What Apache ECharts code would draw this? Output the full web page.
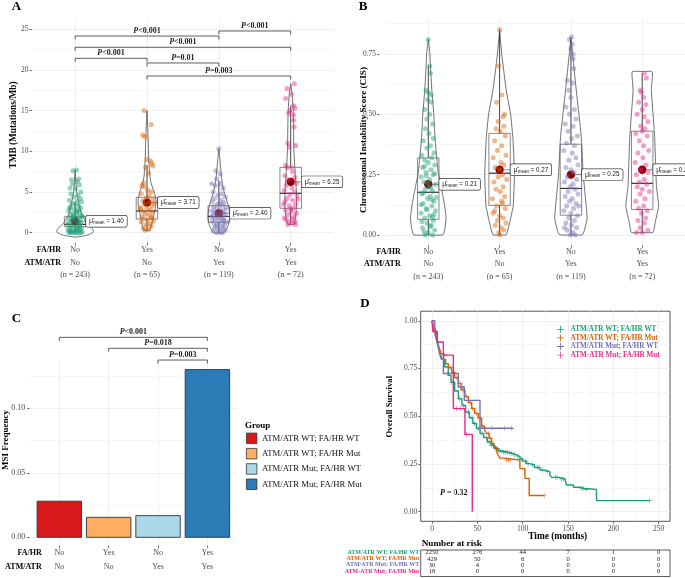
<!DOCTYPE html>
<html><head><meta charset="utf-8">
<script src="https://cdn.jsdelivr.net/npm/echarts@6/dist/echarts.min.js"></script>
<style>html,body{margin:0;padding:0;background:#fff}#c{width:685px;height:578px}</style>
</head><body><div id="c"></div>
<script>
const SERIF = '"Liberation Serif","Times New Roman","DejaVu Serif",serif';
const SANS = '"Liberation Sans","DejaVu Sans",sans-serif';
const TICK_COLOR = '#4D4D4D';

// ---------- shared groups (panels A, B, C)
const groupFA = ['No','Yes','No','Yes'];
const groupATM = ['No','No','Yes','Yes'];
const groupN = [243,65,119,72];
const groupPositions = [0,1,2,3];
const groupColors = ['#1B9E77','#D95F02','#7570B3','#E7298A'];

// ---------- panel A : TMB
const tmbTicks = [0,5,10,15,20,25];
const tmbMinorTicks = [2.5,7.5,12.5,17.5,22.5];
const tmbMeans = [1.40,3.71,2.40,6.25];
// q1, median, q3, lower whisker, upper whisker
const tmbBoxes = [[0.74,1.03,1.97,0,3.8],[1.68,2.67,4.35,0.3,8.3],[1.28,2.0,3.32,0,6.4],[3.0,4.84,8.03,1.0,15.6]];
// violin outlines: [value, half width]
const tmbViolins = [
  [[-0.55,0],[-0.4,0.12],[-0.2,0.2],[0.1,0.255],[0.5,0.24],[1.15,0.163],[2.2,0.093],[3.4,0.056],[4.8,0.023],[6,0.012],[7.7,0]],
  [[0.3,0],[0.32,0.045],[1,0.065],[2,0.09],[3,0.115],[4,0.125],[5,0.1],[6,0.06],[7,0.04],[9,0.025],[11,0.018],[13,0.01],[15,0]],
  [[-0.05,0],[0,0.07],[0.5,0.11],[1,0.135],[2,0.15],[3,0.14],[4,0.11],[5,0.074],[6,0.05],[7,0.035],[8,0.025],[9,0.015],[10.3,0]],
  [[1,0],[1.02,0.04],[1.5,0.06],[3,0.08],[5,0.08],[7,0.065],[10,0.045],[13,0.04],[15,0.035],[17,0.02],[18.3,0]]
];
// jitter points: [x offset, value]
const tmbPoints = [
  [[0.02,7.7],[-0.03,7.6],[0.05,6.6],[-0.05,6.5],[0.03,6.3],[-0.04,6.0],[0.06,5.9],[-0.07,5.5],[0.01,5.4],[0.08,5.0],[-0.06,4.8],[0.04,4.6],[-0.02,4.4],[0.07,4.2],[-0.08,4.0],[0.03,3.9],[0.09,3.8],[-0.04,3.6],[0.0,3.5],[0.05,3.3],[-0.07,3.2],[0.08,3.0],[-0.01,2.9],[0.04,2.8],[-0.09,2.7],[0.06,2.5],[-0.03,2.4],[0.02,2.3],[-0.06,2.2],[0.09,2.1],[-0.02,2.0],[0.05,1.9],[-0.08,1.8],[0.01,1.7],[0.07,1.6],[-0.05,1.5],[0.03,1.4],[-0.09,1.3],[0.08,1.2],[-0.01,1.1],[0.04,1.0],[-0.06,0.9],[0.06,0.8],[-0.03,0.7],[0.09,0.6],[-0.07,0.5],[0.02,0.5],[0.05,0.4],[-0.04,0.3],[0.07,0.3],[-0.08,0.2],[0.0,0.2],[0.03,0.1],[-0.05,0.1],[0.08,0.0],[-0.02,0.0],[0.05,0.0],[-0.09,0.0],[0.01,0.0],[-0.06,0.0],[0.1,0.1],[-0.1,0.4],[0.06,1.3],[-0.04,1.6],[0.02,2.6],[-0.07,3.0],[0.1,2.0],[-0.1,1.0],[0.04,0.6],[-0.03,1.9]],
  [[-0.04,15.0],[0.06,13.3],[-0.06,12.0],[-0.03,11.8],[0.0,9.0],[0.05,8.8],[0.07,8.5],[0.08,8.2],[-0.02,8.0],[0.02,7.3],[-0.05,6.1],[-0.07,5.8],[-0.04,5.6],[0.01,5.2],[0.06,5.0],[-0.08,4.8],[0.03,4.5],[-0.01,4.3],[0.09,4.1],[-0.06,3.9],[0.04,3.7],[-0.03,3.5],[0.07,3.3],[-0.09,3.1],[0.0,3.0],[0.05,2.8],[-0.05,2.6],[0.08,2.5],[-0.02,2.3],[0.03,2.2],[-0.07,2.0],[0.06,1.9],[-0.04,1.7],[0.01,1.6],[0.09,1.4],[-0.08,1.3],[0.04,1.1],[-0.01,1.0],[0.06,0.8],[-0.05,0.6],[0.02,0.4],[-0.03,0.3],[0.07,1.8],[-0.09,2.9],[0.1,3.6]],
  [[0.0,10.3],[-0.04,7.6],[0.02,7.2],[-0.03,6.6],[-0.1,6.0],[0.02,6.0],[-0.05,5.8],[0.06,5.5],[-0.08,5.0],[0.04,4.8],[-0.01,4.6],[0.09,4.4],[-0.06,4.2],[0.03,4.0],[-0.09,3.8],[0.07,3.7],[-0.02,3.5],[0.05,3.4],[-0.07,3.2],[0.1,3.1],[0.01,3.0],[-0.04,2.9],[0.08,2.8],[-0.1,2.7],[0.03,2.6],[-0.06,2.5],[0.06,2.4],[-0.01,2.3],[0.09,2.2],[-0.08,2.1],[0.02,2.0],[-0.03,1.9],[0.07,1.8],[-0.05,1.7],[0.04,1.6],[-0.09,1.5],[0.0,1.4],[0.1,1.3],[-0.07,1.2],[0.05,1.1],[-0.02,1.0],[0.08,0.9],[-0.04,0.8],[0.03,0.7],[-0.06,0.6],[0.06,0.5],[-0.01,0.4],[0.09,0.3],[-0.08,0.2],[0.02,0.1],[-0.03,0.0],[0.05,0.0],[0.07,1.5],[-0.1,2.0],[0.01,3.6]],
  [[0.05,18.3],[-0.05,17.7],[0.01,17.0],[-0.07,16.5],[0.04,15.6],[0.06,15.3],[-0.01,15.0],[-0.03,14.7],[0.04,14.5],[0.04,13.8],[0.05,13.0],[-0.04,11.0],[0.07,10.7],[-0.02,10.5],[-0.07,8.3],[-0.05,8.0],[0.01,8.0],[0.03,7.5],[-0.08,7.0],[0.06,6.8],[-0.03,6.5],[0.08,6.0],[-0.06,5.8],[0.02,5.5],[-0.09,5.2],[0.05,5.0],[-0.01,4.7],[0.09,4.5],[-0.05,4.2],[0.03,4.0],[-0.08,3.8],[0.07,3.5],[-0.02,3.3],[0.04,3.0],[-0.07,2.8],[0.01,2.6],[0.08,2.4],[-0.04,2.2],[0.05,2.0],[-0.09,1.8],[0.02,1.7],[-0.06,1.6],[0.06,1.4],[-0.02,1.3],[0.04,1.2],[-0.04,1.0],[0.07,1.0],[0.0,2.9],[-0.1,3.5],[0.1,4.1]]
];
// brackets: [from group, to group, height]
const tmbBrackets = [[0,2,24.16],[2,3,24.78],[0,3,22.78],[0,1,21.42],[1,2,20.85],[1,3,19.25]];
const tmbBracketLabels = ['P<0.001','P<0.001','P<0.001','P<0.001','P=0.01','P=0.003'];

// ---------- panel B : CIS
const cisTicks = [0,0.25,0.5,0.75];
const cisMinorTicks = [0.125,0.375,0.625,0.875];
const cisMeans = [0.21,0.27,0.25,0.27];
const cisBoxes = [[0.065,0.177,0.319,0,0.70],[0.123,0.256,0.421,0,0.85],[0.082,0.193,0.376,0,0.81],[0.106,0.214,0.43,0.01,0.67]];
const cisViolins = [
  [[0,0],[0.001,0.205],[0.03,0.235],[0.07,0.25],[0.12,0.23],[0.2,0.18],[0.25,0.145],[0.3,0.125],[0.4,0.095],[0.5,0.077],[0.6,0.05],[0.7,0.03],[0.75,0.023],[0.81,0]],
  [[0,0],[0.001,0.093],[0.05,0.14],[0.12,0.19],[0.25,0.208],[0.4,0.187],[0.5,0.154],[0.6,0.093],[0.7,0.05],[0.75,0.03],[0.85,0]],
  [[0,0],[0.001,0.16],[0.02,0.19],[0.07,0.227],[0.15,0.205],[0.25,0.173],[0.4,0.147],[0.5,0.112],[0.6,0.075],[0.7,0.04],[0.75,0.023],[0.82,0]],
  [[0.01,0],[0.011,0.152],[0.05,0.18],[0.12,0.23],[0.2,0.2],[0.3,0.187],[0.4,0.175],[0.5,0.152],[0.6,0.128],[0.676,0.14],[0.677,0]]
];
const cisPoints = [
  [[0.0,0.81],[0.02,0.70],[0.03,0.67],[-0.03,0.60],[0.0,0.59],[0.04,0.58],[-0.01,0.56],[0.04,0.55],[-0.05,0.52],[0.02,0.50],[-0.02,0.48],[0.06,0.46],[-0.04,0.44],[0.01,0.42],[0.07,0.40],[-0.07,0.39],[0.03,0.37],[-0.02,0.36],[0.08,0.34],[-0.09,0.33],[0.05,0.32],[-0.05,0.31],[0.0,0.30],[0.09,0.29],[-0.08,0.28],[0.04,0.27],[-0.03,0.26],[0.07,0.25],[-0.1,0.24],[0.02,0.23],[-0.06,0.22],[0.1,0.21],[0.01,0.20],[-0.04,0.19],[0.06,0.18],[-0.09,0.17],[0.03,0.16],[-0.01,0.15],[0.08,0.14],[-0.07,0.13],[0.05,0.12],[-0.03,0.11],[0.1,0.10],[-0.1,0.09],[0.02,0.08],[-0.05,0.07],[0.07,0.06],[-0.02,0.05],[0.04,0.04],[-0.08,0.03],[0.09,0.02],[0.0,0.01],[-0.04,0.0],[0.06,0.0],[-0.06,0.015],[0.03,0.035],[-0.09,0.055],[0.08,0.085],[-0.02,0.105],[0.05,0.145],[-0.07,0.175],[0.0,0.215],[0.09,0.255],[-0.05,0.285],[0.06,0.075],[-0.1,0.125],[0.04,0.195],[-0.03,0.245],[0.11,0.155]],
  [[0.0,0.85],[-0.01,0.70],[0.03,0.58],[-0.04,0.55],[0.07,0.50],[0.05,0.49],[-0.02,0.47],[0.06,0.45],[-0.05,0.44],[0.01,0.43],[0.08,0.41],[-0.07,0.39],[0.03,0.37],[-0.03,0.35],[0.09,0.33],[-0.09,0.32],[0.02,0.30],[0.06,0.29],[-0.06,0.28],[0.0,0.27],[0.04,0.25],[-0.02,0.24],[0.1,0.23],[-0.08,0.22],[0.05,0.20],[-0.05,0.19],[0.01,0.18],[0.07,0.16],[-0.1,0.15],[0.03,0.14],[-0.04,0.12],[0.08,0.11],[-0.07,0.10],[0.0,0.08],[0.05,0.07],[-0.03,0.06],[0.09,0.05],[-0.06,0.04],[0.02,0.03],[-0.01,0.01],[0.0,0.0],[0.06,0.02],[-0.09,0.09],[0.04,0.13]],
  [[0.01,0.82],[-0.02,0.81],[0.02,0.79],[0.0,0.77],[0.03,0.75],[0.03,0.73],[0.04,0.69],[-0.05,0.64],[0.02,0.63],[-0.03,0.60],[0.0,0.57],[-0.07,0.53],[0.05,0.52],[-0.02,0.50],[0.07,0.48],[-0.08,0.46],[0.03,0.45],[-0.04,0.43],[0.09,0.41],[0.01,0.40],[-0.06,0.38],[0.05,0.37],[-0.1,0.35],[0.02,0.34],[0.07,0.32],[-0.03,0.31],[0.1,0.29],[-0.07,0.28],[0.0,0.27],[0.04,0.26],[-0.05,0.24],[0.08,0.23],[-0.09,0.22],[0.03,0.21],[-0.01,0.20],[0.06,0.19],[-0.04,0.18],[0.1,0.17],[-0.08,0.16],[0.02,0.15],[-0.02,0.14],[0.07,0.13],[-0.06,0.12],[0.04,0.11],[-0.1,0.10],[0.0,0.09],[0.09,0.08],[-0.03,0.07],[0.05,0.06],[-0.07,0.05],[0.01,0.04],[0.08,0.03],[-0.05,0.02],[0.03,0.01],[-0.01,0.0],[0.06,0.0],[-0.09,0.03],[0.11,0.12]],
  [[0.03,0.67],[0.06,0.65],[-0.03,0.60],[-0.01,0.59],[0.02,0.57],[-0.05,0.55],[0.05,0.54],[0.0,0.52],[-0.07,0.50],[0.03,0.49],[0.08,0.47],[-0.02,0.45],[0.04,0.44],[0.0,0.43],[-0.09,0.42],[0.07,0.41],[-0.04,0.39],[0.02,0.37],[0.09,0.35],[-0.06,0.34],[0.01,0.32],[-0.1,0.30],[0.05,0.29],[-0.02,0.27],[0.08,0.26],[-0.08,0.25],[0.03,0.23],[-0.04,0.22],[0.06,0.21],[-0.07,0.20],[0.0,0.19],[0.1,0.18],[-0.03,0.17],[0.04,0.15],[-0.09,0.14],[0.02,0.12],[-0.05,0.11],[0.07,0.10],[-0.01,0.09],[0.05,0.07],[-0.06,0.06],[0.03,0.05],[-0.03,0.03],[0.08,0.02],[0.0,0.01],[-0.08,0.01]]
];

// ---------- panel C : MSI
const msiTicks = [0,0.05,0.10];
const msiMinorTicks = [0.025,0.075,0.125];
const msiValues = [0.028,0.0155,0.0168,0.130];
const msiGroups = ['ATM/ATR WT; FA/HR WT','ATM/ATR WT; FA/HR Mut','ATM/ATR Mut; FA/HR WT','ATM/ATR Mut; FA/HR Mut'];
const msiColors = ['#D7191C','#FDAE61','#ABD9E9','#2C7BB6'];
const msiBrackets = [[0,3,0.155],[1,3,0.1465],[2,3,0.1374]];
const msiBracketLabels = ['P<0.001','P=0.018','P=0.003'];

// ---------- panel D : Kaplan-Meier
const kmNames = ['ATM/ATR WT; FA/HR WT','ATM/ATR WT; FA/HR Mut','ATM/ATR Mut; FA/HR WT','ATM-ATR Mut; FA/HR Mut'];
const kmTimeTicks = [0,50,100,150,200,250];
const kmTimeMinor = [25,75,125,175,225];
const kmSurvTicks = [0,0.25,0.5,0.75,1];
const kmSurvMinor = [0.125,0.375,0.625,0.875];
const kmWTWT = [[0,1],[1.5,0.965],[3,0.935],[5,0.895],[7,0.86],[9,0.828],[11,0.798],[14,0.758],[18,0.714],[21,0.678],[25,0.632],[29,0.592],[33,0.556],[37,0.522],[41,0.492],[45,0.462],[49,0.436],[53,0.41],[57,0.388],[61,0.365],[65,0.348],[69,0.332],[73,0.318],[78,0.312],[84,0.306],[89,0.298],[93,0.288],[97,0.276],[100,0.265],[104,0.252],[108,0.245],[113,0.232],[119,0.218],[124,0.21],[130,0.192],[132,0.18],[140,0.172],[146.5,0.166],[148.3,0.14],[156,0.128],[163,0.122],[168,0.117],[181.4,0.058],[240,0.058]];
const kmWTMut = [[0,1],[2,0.962],[4,0.925],[6,0.89],[8,0.858],[10,0.828],[12.5,0.797],[15,0.775],[18,0.755],[21.7,0.731],[25,0.702],[29,0.672],[32,0.638],[36.3,0.603],[40,0.572],[43.7,0.541],[47,0.515],[51,0.49],[54.7,0.448],[58,0.427],[60.2,0.41],[63,0.385],[65.7,0.358],[68,0.336],[71.2,0.314],[73,0.296],[74.9,0.281],[78.5,0.271],[96.9,0.226],[102.4,0.175],[107.2,0.085],[123.7,0.085]];
const kmMutWT = [[0,1],[3,0.967],[5,0.933],[7,0.867],[8,0.833],[10,0.8],[12.5,0.724],[29,0.653],[35.6,0.583],[52.9,0.437],[89.6,0.437]];
const kmMutMut = [[0,1],[0.8,0.944],[5.9,0.889],[12.5,0.82],[23.5,0.54],[36.3,0.405],[44.4,0]];
const kmCensorWTWT = [[22,0.678],[30,0.592],[35,0.556],[40,0.522],[44,0.492],[47,0.462],[51,0.436],[55,0.41],[60,0.388],[63,0.365],[66,0.348],[70,0.332],[72,0.332],[74,0.318],[76,0.318],[79,0.312],[81,0.312],[83,0.312],[86,0.306],[88,0.306],[91,0.298],[95,0.288],[99,0.276],[103,0.265],[106,0.252],[111,0.245],[116,0.232],[118,0.232],[122,0.218],[127,0.21],[136,0.18],[138,0.18],[143,0.172],[145,0.172],[165,0.122],[167,0.122],[170,0.117],[240,0.058]];
const kmCensorWTMut = [[20,0.755],[24,0.731],[27,0.702],[31,0.672],[34,0.638],[38,0.603],[42,0.572],[45,0.541],[49,0.515],[53,0.49],[56,0.448],[62,0.41],[64,0.385],[67,0.358],[70,0.336],[82,0.271],[84,0.271],[86,0.271],[123.7,0.085]];
const kmCensorMutWT = [[17,0.724],[34,0.653],[66,0.437],[80,0.437],[88,0.437]];
const kmCensorMutMut = [[14,0.82],[27,0.54],[31,0.54],[38,0.405]];
const kmColors = ['#1B9E77','#D95F02','#7570B3','#E7298A'];
const kmPValue = 'P = 0.32';

// ---------- risk table
const riskTimes = [0,50,100,150,200,250];
const riskWTWT = [2250,276,44,7,1,0];
const riskWTMut = [429,50,6,0,0,0];
const riskMutWT = [30,4,0,0,0,0];
const riskMutMut = [18,0,0,0,0,0];

// =================== building ===================
const kmCurves = [kmWTWT,kmWTMut,kmMutWT,kmMutMut];
const kmCensors = [kmCensorWTWT,kmCensorWTMut,kmCensorMutWT,kmCensorMutMut];
const riskRows = [riskWTWT,riskWTMut,riskMutWT,riskMutMut];

function groupLabel(withN){
  return v => { const i = Math.round(v); let s = groupFA[i] + '\n' + groupATM[i]; if (withN) s += '\n(n = ' + groupN[i] + ')'; return s; };
}
function catAxis(grid, withN, margin, lineHeight){
  return {type:'value', gridIndex:grid, min:-0.6, max:3.6,
    axisLine:{show:false,onZero:false},
    axisTick:{show:true, customValues:groupPositions, length:2.5, lineStyle:{color:'#333', width:0.7}},
    axisLabel:{customValues:groupPositions, formatter:groupLabel(withN), color:TICK_COLOR, fontFamily:SERIF, fontSize:8, lineHeight:lineHeight, margin:margin},
    splitLine:{show:true, lineStyle:{color:'#EBEBEB', width:0.8}}};
}
function valAxis(grid, min, max, ticks, fmt, extra){
  return Object.assign({type:'value', gridIndex:grid, min:min, max:max,
    axisLine:{show:false,onZero:false},
    axisTick:{show:true, customValues:ticks, length:2.5, lineStyle:{color:'#333', width:0.7}},
    axisLabel:{customValues:ticks, formatter:fmt, color:TICK_COLOR, fontFamily:SERIF, fontSize:7.5, margin:3.5},
    splitLine:{show:true, lineStyle:{color:'#EBEBEB', width:0.8}}}, extra||{});
}
function minorAxis(grid, min, max, ticks){
  return {type:'value', gridIndex:grid, min:min, max:max,
    axisLine:{show:false,onZero:false},
    axisTick:{show:false, customValues:ticks},
    axisLabel:{show:false, customValues:ticks},
    splitLine:{show:true, lineStyle:{color:'#F3F3F3', width:0.6}}};
}
function jitterSeries(ax, pts, gi){
  return {type:'scatter', xAxisIndex:ax, yAxisIndex:ax, silent:true, clip:false, symbolSize:5,
    itemStyle:{color:groupColors[gi], opacity:0.45},
    data: pts.map(p => [groupPositions[gi] + p[0], p[1]])};
}
function violinSeries(ax, profiles){
  return {type:'custom', xAxisIndex:ax, yAxisIndex:ax, silent:true, clip:false,
    data: groupPositions.map(g => [g]),
    renderItem(params, api){
      const g = api.value(0); const prof = profiles[params.dataIndex];
      const pts = [];
      prof.forEach(p => pts.push(api.coord([g + p[1], p[0]])));
      for (let k = prof.length - 1; k >= 0; k--) pts.push(api.coord([g - prof[k][1], prof[k][0]]));
      return {type:'polygon', shape:{points:pts, smooth:0.15}, style:{fill:'none', stroke:'#333', lineWidth:0.7}};
    }};
}
function boxSeries(ax, boxes){
  return {type:'custom', xAxisIndex:ax, yAxisIndex:ax, silent:true, clip:false,
    data: boxes.map((b,i) => [groupPositions[i]].concat(b)),
    renderItem(params, api){
      const g = api.value(0), q1 = api.value(1), md = api.value(2), q3 = api.value(3), lo = api.value(4), hi = api.value(5);
      const a = api.coord([g-0.15, q3]), b = api.coord([g+0.15, q1]);
      const m1 = api.coord([g-0.15, md]), m2 = api.coord([g+0.15, md]);
      const top = api.coord([g, hi]), bot = api.coord([g, lo]);
      const ct = api.coord([g, q3]), cb = api.coord([g, q1]);
      const ls = {stroke:'#333', lineWidth:0.9};
      return {type:'group', children:[
        {type:'line', shape:{x1:ct[0],y1:ct[1],x2:top[0],y2:top[1]}, style:ls},
        {type:'line', shape:{x1:cb[0],y1:cb[1],x2:bot[0],y2:bot[1]}, style:ls},
        {type:'rect', shape:{x:a[0], y:a[1], width:b[0]-a[0], height:b[1]-a[1]}, style:{fill:'none', stroke:'#555', lineWidth:0.7}},
        {type:'line', shape:{x1:m1[0],y1:m1[1],x2:m2[0],y2:m2[1]}, style:{stroke:'#333', lineWidth:1.2}}
      ]};
    }};
}
function meanSeries(ax, means){
  return {type:'custom', xAxisIndex:ax, yAxisIndex:ax, silent:true, clip:false,
    data: means.map((m,i) => [groupPositions[i], m]),
    renderItem(params, api){
      const p = api.coord([api.value(0), api.value(1)]);
      const lab = means[params.dataIndex].toFixed(2);
      return {type:'group', children:[
        {type:'line', shape:{x1:p[0]+4, y1:p[1], x2:p[0]+11, y2:p[1]}, style:{stroke:'#333', lineWidth:0.6}},
        {type:'circle', shape:{cx:p[0], cy:p[1], r:4.2}, style:{fill:'#8B0000'}},
        {type:'text', x:p[0]+11, y:p[1], style:{
          text:'{mu|\u03bc\u0302}{sub|mean}{v| = ' + lab + '}',
          rich:{mu:{fontSize:7, fontFamily:SANS, fill:'#222'}, sub:{fontSize:4.5, fontFamily:SANS, fill:'#222', padding:[3,0,0,0]}, v:{fontSize:6.3, fontFamily:SANS, fill:'#222'}},
          verticalAlign:'middle', align:'left', backgroundColor:'#fff', borderColor:'#333', borderWidth:0.7, borderRadius:1.5, padding:[1.5,3]}}
      ]};
    }};
}
function bracketSeries(ax, brackets, labels){
  return {type:'custom', xAxisIndex:ax, yAxisIndex:ax, silent:true, clip:false,
    data: brackets,
    renderItem(params, api){
      const a = api.coord([api.value(0), api.value(2)]), b = api.coord([api.value(1), api.value(2)]);
      const t = labels[params.dataIndex];
      return {type:'group', children:[
        {type:'polyline', shape:{points:[[a[0],a[1]+3.5],[a[0],a[1]],[b[0],b[1]],[b[0],b[1]+3.5]]}, style:{stroke:'#333', lineWidth:0.8, fill:'none'}},
        {type:'text', x:(a[0]+b[0])/2, y:a[1]-1, style:{text:'{i|' + t.charAt(0) + '}{b|' + t.slice(1) + '}',
          rich:{i:{fontStyle:'italic', fontWeight:'bold', fontSize:8, fontFamily:SERIF, fill:'#222'}, b:{fontWeight:'bold', fontSize:8, fontFamily:SERIF, fill:'#222'}},
          align:'center', verticalAlign:'bottom'}}
      ]};
    }};
}

const series = [];
// panel A
tmbPoints.forEach((pts,gi) => series.push(jitterSeries(0, pts, gi)));
series.push(violinSeries(0, tmbViolins), boxSeries(0, tmbBoxes), meanSeries(0, tmbMeans), bracketSeries(0, tmbBrackets, tmbBracketLabels));
// panel B
cisPoints.forEach((pts,gi) => series.push(jitterSeries(1, pts, gi)));
series.push(violinSeries(1, cisViolins), boxSeries(1, cisBoxes), meanSeries(1, cisMeans));
// panel C
msiValues.forEach((v,i) => series.push({type:'custom', name:msiGroups[i], xAxisIndex:2, yAxisIndex:2, clip:false,
  itemStyle:{color:msiColors[i], borderColor:'#333', borderWidth:0.9},
  data:[[groupPositions[i], v]],
  renderItem(params, api){
    const a = api.coord([api.value(0)-0.45, api.value(1)]), b = api.coord([api.value(0)+0.45, 0]);
    return {type:'rect', shape:{x:a[0], y:a[1], width:b[0]-a[0], height:b[1]-a[1]}, style:{fill:msiColors[i], stroke:'#333', lineWidth:0.9}};
  }}));
series.push(bracketSeries(2, msiBrackets, msiBracketLabels));
// panel D
const plusPath = 'path://M0,4.4h4.4v-4.4h1.2v4.4h4.4v1.2h-4.4v4.4h-1.2v-4.4h-4.4z';
kmCurves.forEach((c,i) => series.push({type:'line', name:'curve' + i, xAxisIndex:3, yAxisIndex:3, step:'end', symbol:'none',
  data:c, lineStyle:{color:kmColors[i], width:1.4}, itemStyle:{color:kmColors[i]}, z:3+i}));
kmCensors.forEach((c,i) => series.push({type:'scatter', name:kmNames[i], xAxisIndex:3, yAxisIndex:3, symbol:plusPath, symbolSize:5,
  data:c, itemStyle:{color:kmColors[i]}, silent:true, z:3+i}));
// risk table
const riskCells = [];
riskRows.forEach((r,ri) => r.forEach((v,ci) => riskCells.push([riskTimes[ci], ri, v])));
series.push({type:'custom', xAxisIndex:4, yAxisIndex:4, silent:true, clip:false, data:riskCells,
  renderItem(params, api){
    const p = api.coord([api.value(0), api.value(1)]);
    return {type:'text', x:p[0], y:p[1], style:{text:String(api.value(2)), fontSize:6.5, fontFamily:SERIF, fill:'#222', align:'center', verticalAlign:'middle'}};
  }});

const riskRich = {};
kmColors.forEach((c,i) => riskRich['r' + i] = {color:c, fontWeight:'bold', fontSize:6, fontFamily:SERIF});

function gtext(x, y, text, o){
  return {type:'text', x:x, y:y, silent:true, rotation:(o && o.rot) || 0,
    style:Object.assign({text:text, fill:'#000', fontFamily:SERIF, fontWeight:'bold', fontSize:9, align:'center', verticalAlign:'middle'}, o ? o.s : {})};
}

const option = {
  animation:false,
  backgroundColor:'#fff',
  textStyle:{fontFamily:SERIF},
  grid:[
    {left:32, right:351.2, top:21.3, bottom:335.2},
    {left:385.5, right:0, top:19, bottom:332.7},
    {left:29.7, right:448, top:361.2, bottom:32.3},
    {left:420.7, right:15, top:311.2, bottom:56.7, show:true, borderColor:'#555', borderWidth:1},
    {left:420.7, right:15, top:550, bottom:1.5, show:true, borderColor:'#333', borderWidth:0.8}
  ],
  xAxis:[
    catAxis(0, true, 1.2, 12.5),
    catAxis(1, true, 0.2, 12.5),
    catAxis(2, false, 0.9, 13.4),
    valAxis(3, -12.5, 262.5, kmTimeTicks, v => String(v), {axisLabel:{customValues:kmTimeTicks, formatter:v => String(v), color:TICK_COLOR, fontFamily:SERIF, fontSize:7.5, margin:4}}),
    {type:'value', gridIndex:4, min:-12.5, max:262.5, show:false},
    minorAxis(3, -12.5, 262.5, kmTimeMinor)
  ],
  yAxis:[
    valAxis(0, -1.24, 25.97, tmbTicks, v => String(v)),
    valAxis(1, -0.0426, 0.8946, cisTicks, v => v.toFixed(2), {offset:6}),
    valAxis(2, -0.0065, 0.1365, msiTicks, v => v.toFixed(2), {axisLabel:{customValues:msiTicks, formatter:v => v.toFixed(2), color:TICK_COLOR, fontFamily:SERIF, fontSize:8, margin:4.5}}),
    valAxis(3, -0.05, 1.05, kmSurvTicks, v => v.toFixed(2)),
    {type:'value', gridIndex:4, inverse:true, min:-0.45, max:3.9, axisLine:{show:false,onZero:false}, axisTick:{show:false, customValues:[0,1,2,3]},
      axisLabel:{customValues:[0,1,2,3], formatter:v => '{r' + v + '|' + kmNames[v] + '}', rich:riskRich, margin:1.5}, splitLine:{show:false}},
    minorAxis(0, -1.24, 25.97, tmbMinorTicks),
    minorAxis(1, -0.0426, 0.8946, cisMinorTicks),
    minorAxis(2, -0.0065, 0.1365, msiMinorTicks),
    minorAxis(3, -0.05, 1.05, kmSurvMinor)
  ],
  legend:[
    {orient:'vertical', left:246, top:432.7, padding:0, itemWidth:10.5, itemHeight:10.5, itemGap:4, icon:'rect',
      textStyle:{fontFamily:SERIF, fontSize:8.7, color:'#111', lineHeight:10.5},
      data: msiGroups.map((n,i) => ({name:n, itemStyle:{color:msiColors[i], borderColor:'#333', borderWidth:0.8}}))},
    {orient:'vertical', left:557, top:325, padding:0, itemWidth:10, itemHeight:7, itemGap:0, selectedMode:false,
      textStyle:{fontFamily:SERIF, fontSize:7.2, fontWeight:'bold', lineHeight:8.6},
      data: kmNames.map((n,i) => ({name:n, icon:plusPath, itemStyle:{color:kmColors[i], borderWidth:0}, textStyle:{color:kmColors[i]}}))}
  ],
  series: series,
  graphic:[
    gtext(16.5, 6.5, 'A', {s:{fontSize:13}}),
    gtext(363, 6.5, 'B', {s:{fontSize:13}}),
    gtext(16.5, 318.5, 'C', {s:{fontSize:13}}),
    gtext(365, 304, 'D', {s:{fontSize:13}}),
    gtext(13.3, 125, 'TMB (Mutations/Mb)', {rot:Math.PI/2, s:{fontSize:9.3}}),
    gtext(363.3, 140, 'Chromosomal Instability Score (CIS)', {rot:Math.PI/2, s:{fontSize:9.2}}),
    gtext(5.5, 440, 'MSI Frequency', {rot:Math.PI/2, s:{fontSize:9}}),
    gtext(390, 406.7, 'Overall Survival', {rot:Math.PI/2, s:{fontSize:8.7}}),
    gtext(61, 250.3, 'FA/HR', {s:{fontSize:8, align:'right'}}),
    gtext(61, 263, 'ATM/ATR', {s:{fontSize:8, align:'right'}}),
    gtext(400.7, 251.7, 'FA/HR', {s:{fontSize:8, align:'right'}}),
    gtext(400.7, 264.3, 'ATM/ATR', {s:{fontSize:8, align:'right'}}),
    gtext(41.7, 553.3, 'FA/HR', {s:{fontSize:8, align:'right'}}),
    gtext(41.7, 566.7, 'ATM/ATR', {s:{fontSize:8, align:'right'}}),
    gtext(245, 426, 'Group', {s:{fontSize:9, align:'left'}}),
    gtext(557.7, 536.7, 'Time (months)', {s:{fontSize:9.4}}),
    gtext(421.7, 543.3, 'Number at risk', {s:{fontSize:9.2, align:'left'}}),
    {type:'text', x:440, y:493.3, silent:true, style:{text:'{i|' + kmPValue.charAt(0) + '}{b|' + kmPValue.slice(1) + '}',
      rich:{i:{fontStyle:'italic', fontWeight:'bold', fontSize:8, fontFamily:SERIF, fill:'#111'}, b:{fontWeight:'bold', fontSize:8, fontFamily:SERIF, fill:'#111'}},
      align:'left', verticalAlign:'middle'}}
  ]
};
const chart = echarts.init(document.getElementById('c'), null, {renderer:'canvas'});
chart.setOption(option);
</script></body></html>
